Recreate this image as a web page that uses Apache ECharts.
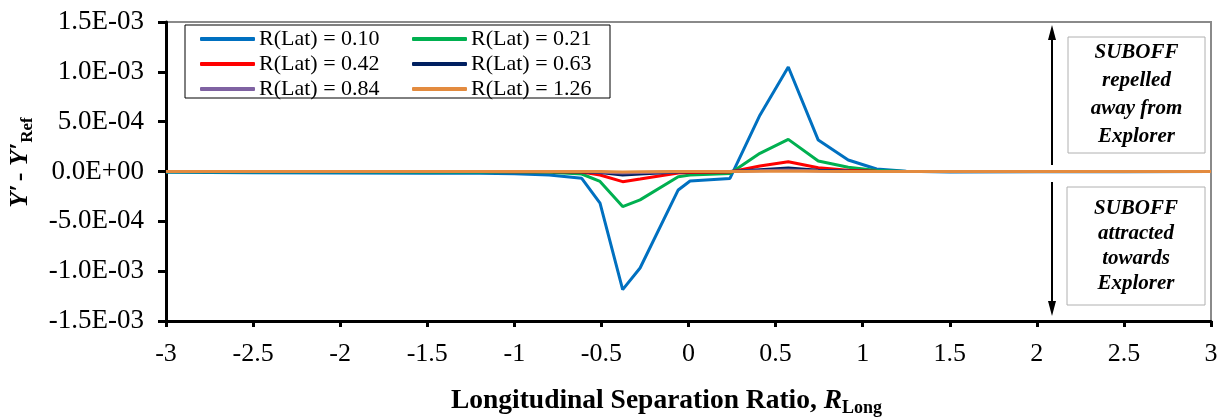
<!DOCTYPE html>
<html>
<head>
<meta charset="utf-8">
<script src="https://cdn.jsdelivr.net/npm/echarts@6/dist/echarts.min.js"></script>
<style>
  html, body { margin: 0; padding: 0; background: #fff; }
  #chart { width: 1223px; height: 420px; }
</style>
</head>
<body>
<div id="chart"></div>
<script>
// Longitudinal separation ratio sample positions
const rLong = [-3, -2.5, -2, -1.5, -1.2, -1.0, -0.8, -0.613, -0.508, -0.378, -0.278, -0.059, 0.009, 0.238, 0.41, 0.573, 0.745, 0.917, 1.08, 1.25, 1.5, 2, 2.5, 3];

// Y' - Y'Ref for each lateral separation ratio
const lat010 = [-8e-6, -1.2e-5, -1.5e-5, -1.8e-5, -1.8e-5, -2.2e-5, -3.5e-5, -6.8e-5, -3.18e-4, -1.185e-3, -9.68e-4, -1.85e-4, -9.5e-5, -7e-5, 5.65e-4, 1.048e-3, 3.15e-4, 1.15e-4, 2.5e-5, 2e-6, -4e-6, -3e-6, -2e-6, 0];
const lat021 = [-2e-6, -3e-6, -3e-6, -4e-6, -4e-6, -5e-6, -8e-6, -2.5e-5, -1.0e-4, -3.52e-4, -2.85e-4, -5.2e-5, -3.5e-5, -2e-5, 1.82e-4, 3.22e-4, 1.05e-4, 4.2e-5, 1e-5, 1e-6, 0, 0, 0, 0];
const lat042 = [0, 0, 0, -1e-6, -1e-6, -2e-6, -3e-6, -5e-6, -3.5e-5, -1.02e-4, -7.5e-5, -1.5e-5, -1e-5, -5e-6, 5.5e-5, 9.8e-5, 3.8e-5, 1.2e-5, 3e-6, 0, 0, 0, 0, 0];
const lat063 = [0, 0, 0, 0, 0, -1e-6, -1e-6, -2e-6, -1e-5, -3.5e-5, -2.5e-5, -5e-6, -3e-6, -1e-6, 1.8e-5, 3.5e-5, 1.2e-5, 4e-6, 1e-6, 0, 0, 0, 0, 0];
const lat084 = [0, 0, 0, 0, 0, 0, 0, -1e-6, -4e-6, -1.5e-5, -1e-5, -2e-6, -1e-6, 0, 8e-6, 1.5e-5, 5e-6, 2e-6, 0, 0, 0, 0, 0, 0];
const lat126 = [0, 0, 0, 0, 0, 0, 0, 0, -1e-6, -5e-6, -3e-6, 0, 0, 0, 2e-6, 5e-6, 2e-6, 0, 0, 0, 0, 0, 0, 0];

const seriesNames = ['R(Lat) = 0.10', 'R(Lat) = 0.21', 'R(Lat) = 0.42', 'R(Lat) = 0.63', 'R(Lat) = 0.84', 'R(Lat) = 1.26'];
const seriesValues = [lat010, lat021, lat042, lat063, lat084, lat126];
const seriesColors = ['#0070C0', '#00B050', '#FF0000', '#002060', '#7F62A2', '#E38B3F'];

// Axis ticks
const yMin = -1.5e-3, yMax = 1.5e-3, yStep = 5e-4;
const yTickLabels = ['-1.5E-03', '-1.0E-03', '-5.0E-04', '0.0E+00', '5.0E-04', '1.0E-03', '1.5E-03'];
const xMin = -3, xMax = 3, xStep = 0.5;
const xTickLabels = ['-3', '-2.5', '-2', '-1.5', '-1', '-0.5', '0', '0.5', '1', '1.5', '2', '2.5', '3'];

const SERIF = 'Liberation Serif, Times New Roman, serif';

const chart = echarts.init(document.getElementById('chart'), null, { renderer: 'canvas' });

const series = seriesNames.map((name, i) => ({
  name: name,
  type: 'line',
  data: rLong.map((x, k) => [x, seriesValues[i][k]]),
  showSymbol: false,
  symbol: 'none',
  lineStyle: { color: seriesColors[i], width: 3 },
  itemStyle: { color: seriesColors[i] },
  emphasis: { disabled: true },
  z: 2 + i
}));

function arrowGraphics(x, yTail, yTip) {
  const dir = yTip < yTail ? -1 : 1;
  return [
    { type: 'line', shape: { x1: x, y1: yTail, x2: x, y2: yTip - dir * 12 }, style: { stroke: '#000', lineWidth: 2 } },
    { type: 'polygon', shape: { points: [[x, yTip], [x - 4, yTip - dir * 15], [x + 4, yTip - dir * 15]] }, style: { fill: '#000' } }
  ];
}

function noteBox(x, y, w, h, lines, lineHeight) {
  return [
    { type: 'rect', shape: { x: x, y: y, width: w, height: h }, style: { fill: '#fff', stroke: '#b0b0b0', lineWidth: 1 } },
    {
      type: 'text', x: x + w / 2, y: y + h / 2,
      style: {
        text: lines.join('\n'), fill: '#000',
        fontFamily: SERIF, fontSize: 21, fontWeight: 'bold', fontStyle: 'italic',
        align: 'center', verticalAlign: 'middle', lineHeight: lineHeight
      }
    }
  ];
}

const option = {
  animation: false,
  backgroundColor: '#fff',
  grid: {
    left: 166, right: 12, top: 22, bottom: 99,
    outerBoundsMode: 'none',
    containLabel: false,
    show: true, borderColor: '#8a8a8a', borderWidth: 2, backgroundColor: 'transparent'
  },
  legend: {
    data: seriesNames,
    left: 185, top: 25,
    width: 430,
    orient: 'horizontal',
    icon: 'roundRect',
    itemWidth: 55, itemHeight: 4,
    itemGap: 3,
    padding: [3, 14, 3, 15],
    backgroundColor: 'transparent',
    borderWidth: 0,
    selectedMode: false,
    z: 20,
    textStyle: { fontFamily: SERIF, fontSize: 22, color: '#000', width: 150, lineHeight: 21, padding: [0, 0, 0, -1] }
  },
  xAxis: {
    type: 'value',
    min: xMin, max: xMax, interval: xStep,
    splitLine: { show: false },
    axisLine: { onZero: false, lineStyle: { color: '#000', width: 3 } },
    axisTick: { show: true, inside: false, length: 6, lineStyle: { color: '#000', width: 3 } },
    axisLabel: {
      margin: 20, color: '#000', fontFamily: SERIF, fontSize: 26,
      formatter: (v) => xTickLabels[Math.round((v - xMin) / xStep)]
    },
    name: '{t|Longitudinal Separation Ratio, }{ri|R}{sub|Long}',
    nameLocation: 'middle',
    nameGap: 64,
    nameTextStyle: {
      padding: [0, 44, 0, 0],
      rich: {
        t: { fontFamily: SERIF, fontSize: 27.5, fontWeight: 'bold', color: '#000' },
        ri: { fontFamily: SERIF, fontSize: 27.5, fontWeight: 'bold', fontStyle: 'italic', color: '#000' },
        sub: { fontFamily: SERIF, fontSize: 18, fontWeight: 'bold', color: '#000', padding: [14, 0, 0, 0] }
      }
    }
  },
  yAxis: {
    type: 'value',
    min: yMin, max: yMax, interval: yStep,
    splitLine: { show: false },
    axisLine: { onZero: false, lineStyle: { color: '#000', width: 3 } },
    axisTick: { show: true, inside: false, length: 8, lineStyle: { color: '#000', width: 3 } },
    axisLabel: {
      margin: 22, color: '#000', fontFamily: SERIF, fontSize: 27,
      formatter: (v) => yTickLabels[Math.round((v - yMin) / yStep)]
    },
    name: '{yi|Y\u2032} {t|- }{yi|Y\u2032}{sub|Ref}',
    nameLocation: 'middle',
    nameRotate: 90,
    nameGap: 130,
    nameTextStyle: {
      padding: [0, 0, 0, 18],
      rich: {
        t: { fontFamily: SERIF, fontSize: 26, fontWeight: 'bold', color: '#000' },
        yi: { fontFamily: SERIF, fontSize: 26, fontWeight: 'bold', fontStyle: 'italic', color: '#000' },
        sub: { fontFamily: SERIF, fontSize: 17, fontWeight: 'bold', color: '#000', padding: [14, 0, 0, 0] }
      }
    }
  },
  series: series,
  graphic: [].concat(
    [{ type: 'rect', z: 10, shape: { x: 185, y: 25, width: 425, height: 73 }, style: { fill: '#fff', stroke: '#000', lineWidth: 1 } }],
    arrowGraphics(1052, 165, 25),
    arrowGraphics(1052, 182, 316),
    noteBox(1068, 37, 137, 116, ['SUBOFF', 'repelled', 'away from', 'Explorer'], 28),
    noteBox(1067, 187, 138, 118, ['SUBOFF', 'attracted', 'towards', 'Explorer'], 25)
  )
};

chart.setOption(option);
</script>
</body>
</html>
